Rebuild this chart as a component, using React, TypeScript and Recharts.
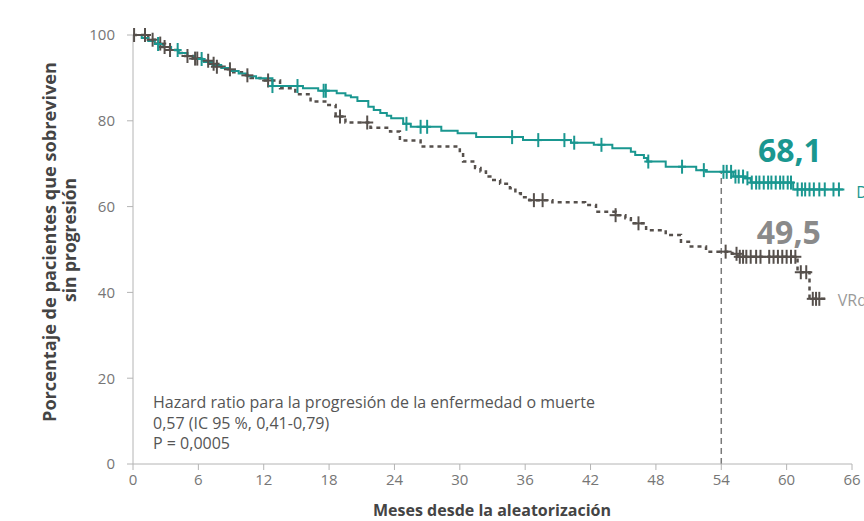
import React from 'react';
import { ComposedChart, Line, Scatter, XAxis, YAxis, ReferenceLine, ReferenceDot } from 'recharts';

const FONT = '"Open Sans", "DejaVu Sans", sans-serif';
const TEAL = '#1a9790';
const DARK = '#56504c';
const LABEL_GRAY = '#8a8a8a';
const TICK_GRAY = '#767676';
const AXIS_GRAY = '#b4b4b4';

const xTicks = [0, 6, 12, 18, 24, 30, 36, 42, 48, 54, 60, 66];
const yTicks = [0, 20, 40, 60, 80, 100];

// D-VRd (teal)
const dvrdTime = [0, 0.8, 1.4, 2.0, 2.8, 3.5, 4.2, 5.0, 5.7, 6.5, 7.3, 8.1, 8.9, 9.7, 10.5, 11.3, 12.8, 15.6, 17.0, 18.7, 19.5, 20.0, 20.6, 21.6, 22.1, 22.7, 23.3, 23.7, 24.8, 25.5, 28.3, 29.8, 31.5, 35.8, 40.2, 42.3, 44.0, 45.7, 46.1, 46.9, 47.2, 48.9, 51.7, 52.6, 55.1, 56.2, 56.7, 60.6];
const dvrdValue = [100, 99.3, 98.6, 97.9, 97.2, 96.5, 95.8, 95.1, 94.4, 93.7, 93.0, 92.3, 91.6, 91.0, 90.4, 89.9, 88.1, 87.6, 87.0, 86.4, 85.9, 85.5, 84.6, 83.3, 82.5, 81.8, 81.2, 80.6, 79.3, 78.6, 77.7, 77.1, 76.2, 75.5, 74.9, 74.4, 73.6, 72.8, 72.0, 71.3, 70.5, 69.3, 68.5, 68.1, 67.0, 66.6, 65.6, 64.0];
const dvrdEnd = 65.3;
const dvrdCensor = [2.3, 4.1, 6.3, 12.8, 15.1, 17.5, 17.7, 25.1, 26.4, 27.0, 34.8, 37.2, 39.6, 40.5, 43.0, 47.3, 50.4, 52.4, 54.2, 54.5, 54.9, 55.3, 55.6, 56.0, 56.4, 56.8, 57.2, 57.5, 57.9, 58.3, 58.6, 59.0, 59.4, 59.7, 60.1, 60.4, 61.0, 61.4, 61.7, 62.1, 62.5, 63.0, 63.5, 64.3, 64.8];

// VRd (dark gray, dashed)
const vrdTime = [0, 1.4, 2.0, 2.7, 3.4, 4.1, 4.8, 5.5, 6.2, 7.0, 7.7, 8.4, 9.2, 10.0, 10.8, 11.7, 13.5, 14.9, 16.3, 17.8, 18.6, 19.5, 21.8, 23.6, 24.5, 26.4, 30.0, 30.3, 31.4, 31.9, 32.4, 32.8, 33.7, 34.6, 35.1, 35.6, 36.4, 38.5, 41.5, 42.5, 44.3, 45.2, 45.7, 47.1, 48.9, 50.3, 51.2, 52.6, 55.0, 55.5, 61.0, 62.1];
const vrdValue = [100, 98.9, 98.0, 97.2, 96.5, 95.8, 95.1, 94.5, 94.0, 93.3, 92.6, 92.0, 91.3, 90.6, 90.0, 89.4, 87.6, 86.2, 84.5, 83.7, 81.0, 79.6, 78.4, 77.5, 75.4, 74.0, 72.6, 70.5, 69.0, 68.2, 67.0, 66.2, 65.3, 64.3, 63.1, 62.2, 61.5, 61.0, 60.4, 58.8, 58.0, 57.3, 56.1, 54.5, 53.4, 51.8, 50.7, 49.5, 49.0, 48.3, 44.7, 38.5];
const vrdEnd = 63.8;
const vrdCensor = [0.1, 1.1, 1.8, 2.5, 2.9, 3.4, 5.0, 5.7, 5.9, 6.9, 7.4, 7.7, 8.9, 10.5, 12.4, 19.0, 21.5, 36.8, 37.6, 44.3, 46.4, 54.4, 55.4, 55.7, 56.0, 56.3, 56.7, 57.2, 57.6, 58.4, 58.8, 59.2, 59.6, 60.0, 60.4, 60.8, 61.3, 61.8, 62.4, 62.7, 63.0];

const stepRows = (times: number[], values: number[], end: number) => {
  const rows = times.map((t, i) => ({ t, v: values[i] }));
  rows.push({ t: end, v: values[values.length - 1] });
  return rows;
};
const valueAt = (times: number[], values: number[], t: number) => {
  let v = values[0];
  for (let i = 0; i < times.length; i++) if (times[i] <= t) v = values[i];
  return v;
};

const dvrdLine = stepRows(dvrdTime, dvrdValue, dvrdEnd);
const vrdLine = stepRows(vrdTime, vrdValue, vrdEnd);
const dvrdMarks = dvrdCensor.map((t) => ({ t, v: valueAt(dvrdTime, dvrdValue, t) }));
const vrdMarks = vrdCensor.map((t) => ({ t, v: valueAt(vrdTime, vrdValue, t) }));

const makeCross = (color: string, hw: number, hh: number) => (p: any) => {
  const { cx, cy } = p;
  if (cx == null || cy == null) return <g />;
  return (
    <g stroke={color} strokeWidth={2}>
      <line x1={cx - hw} y1={cy} x2={cx + hw} y2={cy} />
      <line x1={cx} y1={cy - hh} x2={cx} y2={cy + hh} />
    </g>
  );
};

const textShape = (txt: string, color: string, size: number, weight: number, anchor: string) => (p: any) => (
  <text x={p.cx} y={p.cy} fill={color} fontSize={size} fontWeight={weight} fontFamily={FONT} textAnchor={anchor} dominantBaseline="central">
    {txt}
  </text>
);

export default function App() {
  return (
    <div style={{ position: 'absolute', left: 0, top: 0, width: 864, height: 521, background: '#fff' }}>
      <ComposedChart width={864} height={521} margin={{ top: 35, right: 12, bottom: 0, left: 0 }}>
        <XAxis
          dataKey="t"
          type="number"
          domain={[0, 66]}
          ticks={xTicks}
          height={57}
          stroke={AXIS_GRAY}
          tickSize={6}
          tickMargin={4}
          tick={{ fill: TICK_GRAY, fontSize: 15, fontFamily: FONT }}
          allowDataOverflow
        />
        <YAxis
          type="number"
          domain={[0, 100]}
          ticks={yTicks}
          width={133}
          stroke={AXIS_GRAY}
          tickSize={6}
          tickMargin={12}
          tick={{ fill: TICK_GRAY, fontSize: 15, fontFamily: FONT }}
        />
        <ReferenceLine
          segment={[{ x: 54, y: 0 }, { x: 54, y: 68.1 }]}
          stroke="#7a7a7a"
          strokeWidth={1.5}
          strokeDasharray="6 4"
        />
        <Line data={vrdLine} dataKey="v" type="stepAfter" stroke={DARK} strokeWidth={2.5} strokeDasharray="4 4" dot={false} isAnimationActive={false} />
        <Line data={dvrdLine} dataKey="v" type="stepAfter" stroke={TEAL} strokeWidth={2} dot={false} isAnimationActive={false} />
        <Scatter data={vrdMarks} dataKey="v" shape={makeCross(DARK, 6, 7)} isAnimationActive={false} />
        <Scatter data={dvrdMarks} dataKey="v" shape={makeCross(TEAL, 4, 7)} isAnimationActive={false} />
        <ReferenceDot x={60.3} y={73.3} r={0} ifOverflow="visible" shape={textShape('68,1', TEAL, 32, 700, 'middle')} />
        <ReferenceDot x={60.2} y={54.3} r={0} ifOverflow="visible" shape={textShape('49,5', LABEL_GRAY, 32, 700, 'middle')} />
        <ReferenceDot x={66.4} y={63.4} r={0} ifOverflow="visible" shape={textShape('D-VRd', TEAL, 16, 400, 'start')} />
        <ReferenceDot x={64.7} y={38.3} r={0} ifOverflow="visible" shape={textShape('VRd', '#9a9a9a', 16, 400, 'start')} />
      </ComposedChart>
      <svg width={864} height={521} style={{ position: 'absolute', left: 0, top: 0, pointerEvents: 'none' }}>
        <g fontFamily={FONT} fontWeight={700} fill="#444" fontSize={17}>
          <text transform="translate(49,242) rotate(-90)" textAnchor="middle" dominantBaseline="central" textLength={360} lengthAdjust="spacingAndGlyphs">
            Porcentaje de pacientes que sobreviven
          </text>
          <text transform="translate(69,240) rotate(-90)" textAnchor="middle" dominantBaseline="central" textLength={124} lengthAdjust="spacingAndGlyphs">
            sin progresión
          </text>
          <text x={492} y={510} textAnchor="middle" dominantBaseline="central" fontSize={15.5} textLength={238} lengthAdjust="spacingAndGlyphs">
            Meses desde la aleatorización
          </text>
        </g>
        <g fontFamily={FONT} fill="#555" fontSize={16}>
          <text x={153} y={402} dominantBaseline="central">Hazard ratio para la progresión de la enfermedad o muerte</text>
          <text x={153} y={423} dominantBaseline="central">0,57 (IC 95 %, 0,41-0,79)</text>
          <text x={153} y={443} dominantBaseline="central">P = 0,0005</text>
        </g>
      </svg>
    </div>
  );
}
